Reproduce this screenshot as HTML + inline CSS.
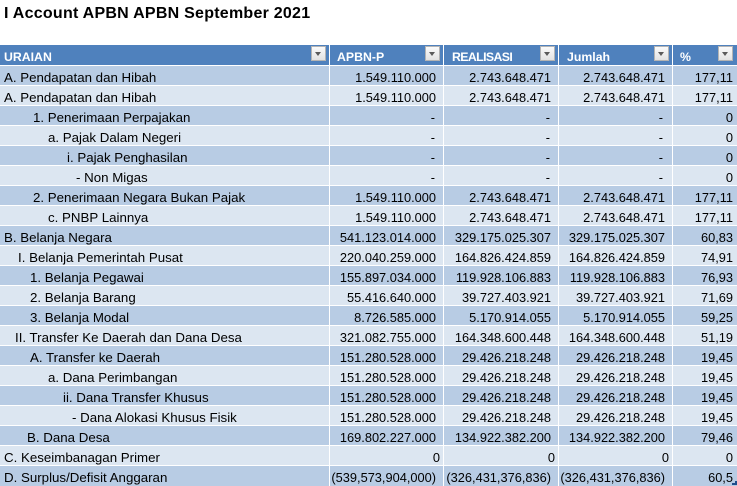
<!DOCTYPE html>
<html>
<head>
<meta charset="utf-8">
<style>
html,body{margin:0;padding:0;background:#fff;}
#w{position:relative;width:737px;height:486px;overflow:hidden;background:#fff;font-family:"Liberation Sans",Arial,sans-serif;color:#000;}
.t{position:absolute;left:4px;top:3.5px;font-weight:bold;font-size:16px;line-height:20px;letter-spacing:0.25px;white-space:nowrap;}
.hd{position:absolute;left:0;top:45px;width:737px;height:20px;background:#4F81BD;}
.hd span{position:absolute;top:2.9px;line-height:19px;font-size:12.3px;font-weight:bold;color:#fff;white-space:nowrap;}
.btn{position:absolute;top:46px;width:13px;height:13px;border:1px solid #b4b4b4;background:linear-gradient(#fbfbfb,#e2e2e2);}
.btn:after{content:"";position:absolute;left:3px;top:5px;border-left:3.5px solid transparent;border-right:3.5px solid transparent;border-top:4px solid #5a5a5a;}
.r{position:absolute;left:0;width:737px;height:19px;}
.d{background:#B8CCE4;}
.li{background:#DCE6F1;}
.r span{position:absolute;top:1.6px;line-height:19px;white-space:nowrap;}
.r .l{font-size:13.3px;}
.r .n{font-size:12.8px;}
.a2{right:301px}.a3{right:186px}.a4{right:72px}
.g2{right:297px}.g3{right:182px}.g4{right:68px}.g5{right:4px}
.h2{right:302px}.h3{right:187px}.h4{right:74px}
.vl{position:absolute;top:45px;width:1px;height:441px;background:#fff;}
</style>
</head>
<body>
<div id="w">
<div class="t">I Account APBN APBN September 2021</div>

<div class="hd">
<span style="left:4px">URAIAN</span>
<span style="left:337px">APBN-P</span>
<span style="left:452px;letter-spacing:-0.6px">REALISASI</span>
<span style="left:567px">Jumlah</span>
<span style="left:680px">%</span>
</div>
<div class="btn" style="left:311px"></div>
<div class="btn" style="left:425px"></div>
<div class="btn" style="left:540px"></div>
<div class="btn" style="left:654px"></div>
<div class="btn" style="left:718px"></div>

<div class="r d" style="top:66px"><span class="l" style="left:4px">A. Pendapatan dan Hibah</span><span class="n a2">1.549.110.000</span><span class="n a3">2.743.648.471</span><span class="n a4">2.743.648.471</span><span class="n g5">177,11</span></div>
<div class="r li" style="top:86px"><span class="l" style="left:4px">A. Pendapatan dan Hibah</span><span class="n a2">1.549.110.000</span><span class="n a3">2.743.648.471</span><span class="n a4">2.743.648.471</span><span class="n g5">177,11</span></div>
<div class="r d" style="top:106px"><span class="l" style="left:33px">1. Penerimaan Perpajakan</span><span class="n h2">-</span><span class="n h3">-</span><span class="n h4">-</span><span class="n g5">0</span></div>
<div class="r li" style="top:126px"><span class="l" style="left:48px">a. Pajak Dalam Negeri</span><span class="n h2">-</span><span class="n h3">-</span><span class="n h4">-</span><span class="n g5">0</span></div>
<div class="r d" style="top:146px"><span class="l" style="left:67px">i. Pajak Penghasilan</span><span class="n h2">-</span><span class="n h3">-</span><span class="n h4">-</span><span class="n g5">0</span></div>
<div class="r li" style="top:166px"><span class="l" style="left:76px">- Non Migas</span><span class="n h2">-</span><span class="n h3">-</span><span class="n h4">-</span><span class="n g5">0</span></div>
<div class="r d" style="top:186px"><span class="l" style="left:33px">2. Penerimaan Negara Bukan Pajak</span><span class="n a2">1.549.110.000</span><span class="n a3">2.743.648.471</span><span class="n a4">2.743.648.471</span><span class="n g5">177,11</span></div>
<div class="r li" style="top:206px"><span class="l" style="left:48px">c. PNBP Lainnya</span><span class="n a2">1.549.110.000</span><span class="n a3">2.743.648.471</span><span class="n a4">2.743.648.471</span><span class="n g5">177,11</span></div>
<div class="r d" style="top:226px"><span class="l" style="left:4px">B. Belanja Negara</span><span class="n a2">541.123.014.000</span><span class="n a3">329.175.025.307</span><span class="n a4">329.175.025.307</span><span class="n g5">60,83</span></div>
<div class="r li" style="top:246px"><span class="l" style="left:18px">I. Belanja Pemerintah Pusat</span><span class="n a2">220.040.259.000</span><span class="n a3">164.826.424.859</span><span class="n a4">164.826.424.859</span><span class="n g5">74,91</span></div>
<div class="r d" style="top:266px"><span class="l" style="left:30px">1. Belanja Pegawai</span><span class="n a2">155.897.034.000</span><span class="n a3">119.928.106.883</span><span class="n a4">119.928.106.883</span><span class="n g5">76,93</span></div>
<div class="r li" style="top:286px"><span class="l" style="left:30px">2. Belanja Barang</span><span class="n a2">55.416.640.000</span><span class="n a3">39.727.403.921</span><span class="n a4">39.727.403.921</span><span class="n g5">71,69</span></div>
<div class="r d" style="top:306px"><span class="l" style="left:30px">3. Belanja Modal</span><span class="n a2">8.726.585.000</span><span class="n a3">5.170.914.055</span><span class="n a4">5.170.914.055</span><span class="n g5">59,25</span></div>
<div class="r li" style="top:326px"><span class="l" style="left:15px">II. Transfer Ke Daerah dan Dana Desa</span><span class="n a2">321.082.755.000</span><span class="n a3">164.348.600.448</span><span class="n a4">164.348.600.448</span><span class="n g5">51,19</span></div>
<div class="r d" style="top:346px"><span class="l" style="left:30px">A. Transfer ke Daerah</span><span class="n a2">151.280.528.000</span><span class="n a3">29.426.218.248</span><span class="n a4">29.426.218.248</span><span class="n g5">19,45</span></div>
<div class="r li" style="top:366px"><span class="l" style="left:48px">a. Dana Perimbangan</span><span class="n a2">151.280.528.000</span><span class="n a3">29.426.218.248</span><span class="n a4">29.426.218.248</span><span class="n g5">19,45</span></div>
<div class="r d" style="top:386px"><span class="l" style="left:63px">ii. Dana Transfer Khusus</span><span class="n a2">151.280.528.000</span><span class="n a3">29.426.218.248</span><span class="n a4">29.426.218.248</span><span class="n g5">19,45</span></div>
<div class="r li" style="top:406px"><span class="l" style="left:72px">- Dana Alokasi Khusus Fisik</span><span class="n a2">151.280.528.000</span><span class="n a3">29.426.218.248</span><span class="n a4">29.426.218.248</span><span class="n g5">19,45</span></div>
<div class="r d" style="top:426px"><span class="l" style="left:27px">B. Dana Desa</span><span class="n a2">169.802.227.000</span><span class="n a3">134.922.382.200</span><span class="n a4">134.922.382.200</span><span class="n g5">79,46</span></div>
<div class="r li" style="top:446px"><span class="l" style="left:4px">C. Keseimbanagan Primer</span><span class="n g2">0</span><span class="n g3">0</span><span class="n g4">0</span><span class="n g5">0</span></div>
<div class="r d" style="top:466px;height:20px"><span class="l" style="left:4px">D. Surplus/Defisit Anggaran</span><span class="n a2">(539,573,904,000)</span><span class="n a3">(326,431,376,836)</span><span class="n a4">(326,431,376,836)</span><span class="n g5">60,5</span></div>

<div class="vl" style="left:329px"></div>
<div class="vl" style="left:443px"></div>
<div class="vl" style="left:558px"></div>
<div class="vl" style="left:672px"></div>

<div style="position:absolute;left:735px;top:481px;width:2px;height:4px;background:#1f4e8c;"></div>
<div style="position:absolute;left:732px;top:483px;width:5px;height:2px;background:#1f4e8c;"></div>
</div>
</body>
</html>
